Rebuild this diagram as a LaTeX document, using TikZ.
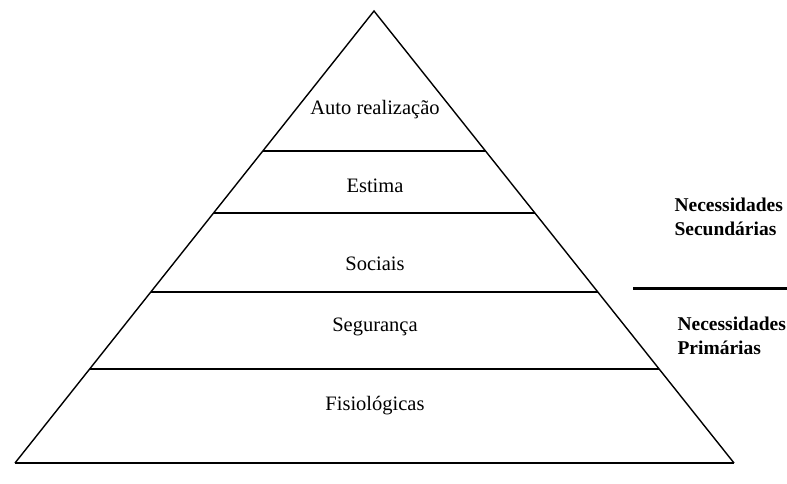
\documentclass[tikz,border=0pt]{standalone}
\usepackage{fontspec}
\setmainfont{Liberation Serif}
\usetikzlibrary{calc}

\tikzset{
  edgeline/.style={line width=1.4pt},
  bandline/.style={line width=2.2pt},
  levellabel/.style={font=\fontsize{20.5}{24}\selectfont},
  grouplabel/.style={font=\fontsize{19.5}{24}\selectfont\bfseries,anchor=west,align=left}
}

\begin{document}
\begin{tikzpicture}[x=1pt,y=-1pt]
  \useasboundingbox (0,0) rectangle (787,484);

  \coordinate (apex) at (374,11);
  \coordinate (bl) at (15,463);
  \coordinate (br) at (734,463);

  % --- pyramid ---
  \draw[edgeline] (bl) -- (apex) -- (br);
  \draw[edgeline] (bl) -- (br);

  \foreach \t/\nm in {0.310/b1, 0.447/b2, 0.622/b3, 0.792/b4}{
    \coordinate (\nm l) at ($(apex)!\t!(bl)$);
    \coordinate (\nm r) at ($(apex)!\t!(br)$);
    \draw[bandline] (\nm l) -- (\nm r);
  }

  % --- levels ---
  \node[levellabel] (auto) at (375,110) {Auto realização};
  \node[levellabel] (estima) at (375,186) {Estima};
  \node[levellabel] (sociais) at (375,264) {Sociais};
  \node[levellabel] (seguranca) at (375,327) {Segurança};
  \node[levellabel] (fisio) at (375,406) {Fisiológicas};

  % --- groups ---
  \coordinate (divl) at (633,288.5);
  \coordinate (divr) at (787,288.5);
  \draw[bandline] (divl) -- (divr);
  \node[grouplabel] (secund) at (671,217) {Necessidades\\Secundárias};
  \node[grouplabel] (prim) at (674,336) {Necessidades\\Primárias};
\end{tikzpicture}
\end{document}
